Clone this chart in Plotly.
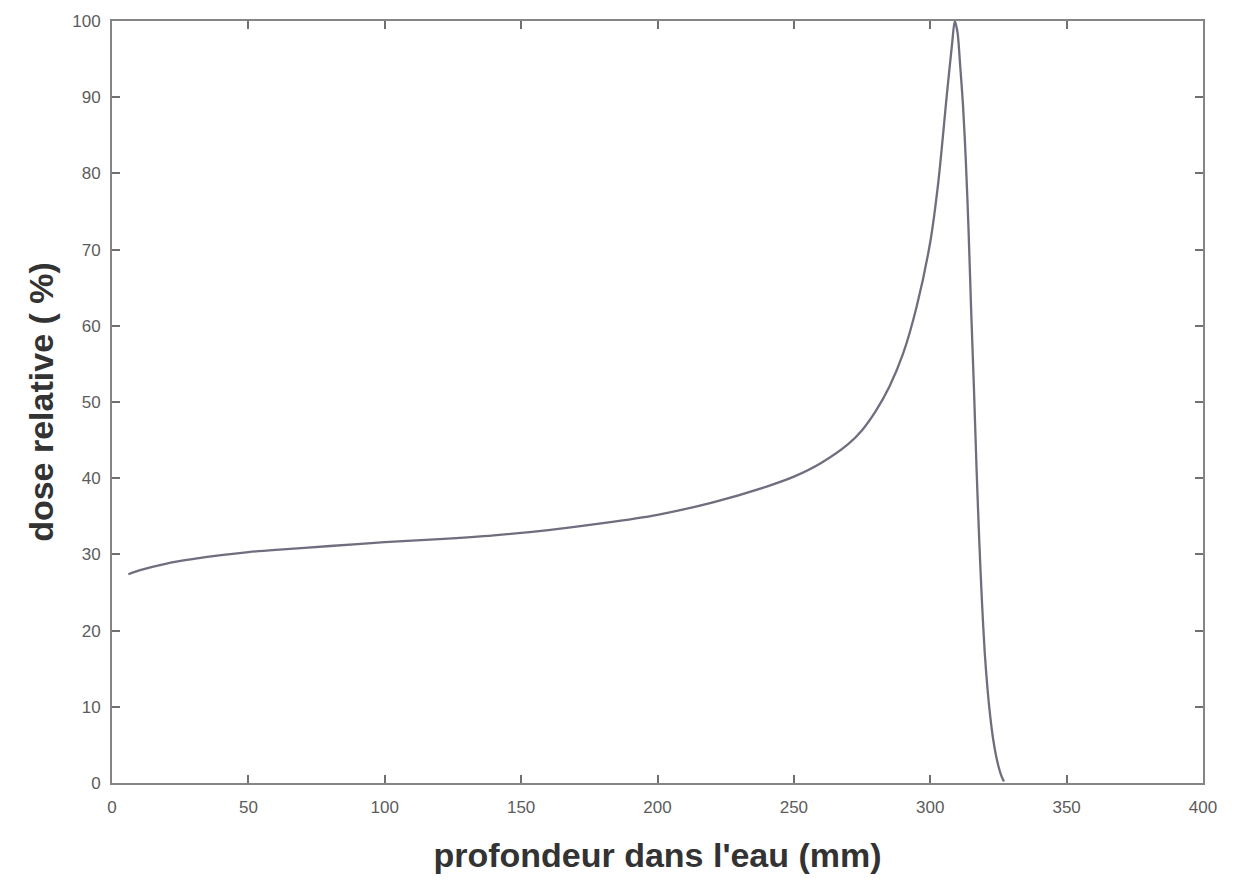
import plotly.graph_objects as go

# Depth-dose curve of a proton beam in water (Bragg peak)
depth_mm = [6, 10, 20, 30, 40, 50, 60, 80, 100, 120, 140, 160, 180, 200, 220,
            240, 250, 260, 270, 275, 280, 285, 290, 295, 300, 303, 306, 308,
            309, 310, 311, 312, 313, 314, 315, 316, 317, 318, 319, 320, 321,
            322, 323, 324, 325, 326, 327]
dose_pct = [27.4, 27.9, 28.8, 29.4, 29.9, 30.3, 30.6, 31.1, 31.6, 32.0, 32.5,
            33.2, 34.1, 35.2, 36.8, 38.9, 40.2, 42.0, 44.5, 46.3, 48.8, 52.0,
            56.3, 62.5, 71.0, 79.0, 90.0, 97.0, 100.0, 98.5, 94.0, 89.0, 82.0,
            73.0, 62.0, 52.0, 41.0, 31.5, 23.5, 17.0, 12.3, 8.7, 5.9, 3.8,
            2.2, 1.0, 0.2]

x_ticks = [0, 50, 100, 150, 200, 250, 300, 350, 400]
y_ticks = [0, 10, 20, 30, 40, 50, 60, 70, 80, 90, 100]

fig = go.Figure()
fig.add_trace(go.Scatter(
    x=depth_mm, y=dose_pct, mode="lines",
    line=dict(color="#6e6e7e", width=2.3, shape="spline", smoothing=0.8),
    showlegend=False,
))

tick_font = dict(family="Liberation Sans, Arial", size=17, color="#5c5c5c")
title_font = dict(family="Liberation Sans, Arial", size=34, color="#333333", weight="bold")
axis_common = dict(
    showgrid=False, zeroline=False,
    showline=True, linecolor="#858585", linewidth=2, mirror="ticks",
    ticks="inside", ticklen=8, tickwidth=2, tickcolor="#707070",
    tickfont=tick_font,
)

fig.update_xaxes(
    range=[0, 400], tickvals=x_ticks, ticklabelstandoff=8,
    title=dict(text="profondeur dans l'eau (mm)", font=title_font, standoff=27),
    **axis_common,
)
fig.update_yaxes(
    range=[0, 100], tickvals=y_ticks, ticklabelstandoff=6,
    title=dict(text="dose relative ( %)", font=title_font, standoff=8),
    **axis_common,
)

fig.update_layout(
    width=1237, height=885,
    margin=dict(l=112, r=34, t=14, b=102),
    paper_bgcolor="white", plot_bgcolor="white",
)

fig.write_html("out.html")
